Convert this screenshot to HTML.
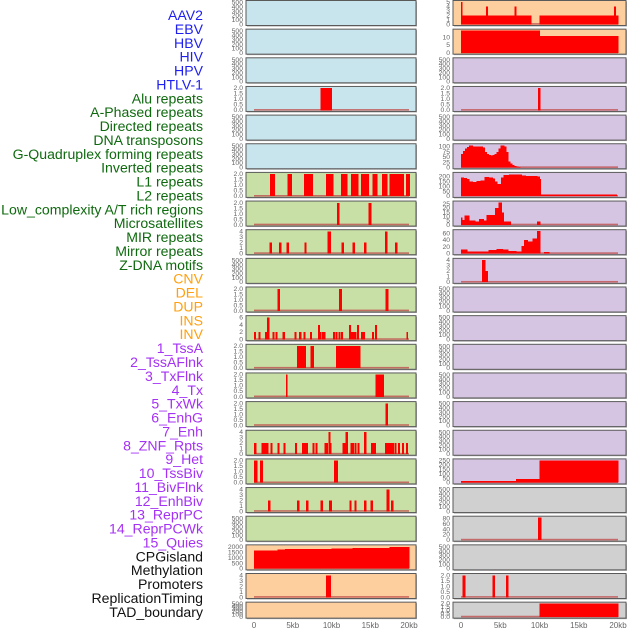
<!DOCTYPE html>
<html><head><meta charset="utf-8"><style>
html,body{margin:0;padding:0;background:#fff;}
svg{display:block;font-family:"Liberation Sans",sans-serif;}
</style></head><body>
<svg id="chart" width="630" height="630" viewBox="0 0 630 630"></svg>
<script>
const trackLabels=["AAV2","EBV","HBV","HIV","HPV","HTLV-1","Alu repeats","A-Phased repeats","Directed repeats","DNA transposons","G-Quadruplex forming repeats","Inverted repeats","L1 repeats","L2 repeats","Low_complexity A/T rich regions","Microsatellites","MIR repeats","Mirror repeats","Z-DNA motifs","CNV","DEL","DUP","INS","INV","1_TssA","2_TssAFlnk","3_TxFlnk","4_Tx","5_TxWk","6_EnhG","7_Enh","8_ZNF_Rpts","9_Het","10_TssBiv","11_BivFlnk","12_EnhBiv","13_ReprPC","14_ReprPCWk","15_Quies","CPGisland","Methylation","Promoters","ReplicationTiming","TAD_boundary"];
const labelGroups=[0,0,0,0,0,0,1,1,1,1,1,1,1,1,1,1,1,1,1,2,2,2,2,2,3,3,3,3,3,3,3,3,3,3,3,3,3,3,3,4,4,4,4,4];
const xTicksKb=[0,5,10,15,20];
const xTickLabels=["0","5kb","10kb","15kb","20kb"];
const T500=[0,100,200,300,400,500],T2=[0,0.5,1,1.5,2],T4=[0,1,2,3,4],T6=[0,2,4,6],T2000=[0,500,1000,1500,2000];
const T5=[0,1,2,3,4,5],T10=[0,5,10],T100=[0,25,50,75,100],T200=[0,50,100,150,200],T25=[0,5,10,15,20,25],T60=[0,20,40,60],T250=[0,50,100,150,200,250],T80=[0,20,40,60,80];
const leftTicks=[T500,T500,T500,T2,T500,T500,T2,T2,T4,T500,T2,T6,T2,T2,T2,T4,T2,T4,T500,T2000,T4,T500];
const leftMax=[520,520,520,2.05,520,520,2.05,2.05,4.1,520,2.05,6.2,2.05,2.05,2.05,4.1,2.05,4.1,520,2110,4.1,520];
const rightTicks=[T5,T10,T500,T2,T500,T100,T200,T25,T60,T4,T500,T500,T500,T500,T500,T500,T250,T500,T80,T500,T2,T2];
const rightMax=[5.1,14.4,520,2.05,520,108,232,27,68,4.1,520,520,520,520,520,520,255,520,85,520,2.05,2.05];
// segments [startKb,endKb,value]
const L3=[[8.6,10.0,2]];
const L6=[[2.06,2.67,2],[4.35,4.86,2],[6.45,7.57,2],[9.29,10.19,2],[11.2,12.0,2],[12.5,13.4,2],[13.8,14.8,2],[15.3,15.9,2],[16.5,17.2,2],[17.5,19.3,2],[19.6,20.1,2]];
const L7=[[10.7,11.0,2],[14.8,15.1,2]];
const L8=[[2.0,2.25,2],[3.25,3.5,2],[4.2,4.45,2],[6.5,6.75,2],[9.5,9.9,4],[11.3,11.55,2],[12.7,13.0,2],[14.2,14.45,2],[16.9,17.2,4],[18.2,18.45,2]];
const L10=[[3.0,3.3,2],[10.95,11.3,2],[16.95,17.3,2]];
const L11=[[0,0.2,2],[0.6,0.8,2],[1.45,1.65,2],[1.65,1.95,6],[2.4,2.6,2],[2.8,3.0,2],[3.7,3.95,2],[5.2,5.45,2],[5.8,6.05,2],[6.4,6.6,2],[7.25,7.45,2],[8.25,8.45,4],[8.45,8.65,2],[8.8,9.0,2],[9.0,9.2,2],[10.2,10.4,2],[10.5,10.7,2],[10.9,11.1,2],[11.25,11.45,2],[12.25,12.45,4],[12.5,12.7,2],[12.8,13.0,2],[13.0,13.2,2],[13.3,13.5,4],[13.8,14.0,2],[14.05,14.25,2],[15.2,15.4,2],[15.6,15.8,4],[19.65,19.85,2]];
const L12=[[5.55,6.67,2],[7.3,7.7,2],[10.6,11.6,2],[11.7,13.7,2]];
const L13=[[4.1,4.3,2],[15.7,16.7,2]];
const L14=[[16.95,17.25,2]];
const L15=[[0,0.25,2],[0.95,1.15,2],[1.1,1.3,2],[1.25,1.45,2],[1.45,1.65,2],[1.65,1.85,2],[2.15,2.35,2],[3.05,3.25,2],[3.8,4.0,2],[5.3,5.5,2],[6.2,6.4,2],[6.45,6.65,2],[6.7,6.9,2],[7.55,7.75,2],[7.95,8.15,2],[9.1,9.3,2],[9.3,9.5,2],[9.6,9.85,4],[9.75,9.95,2],[11.45,11.65,2],[11.65,11.85,2],[11.8,12.05,4],[12.45,12.65,2],[12.65,12.85,2],[12.95,13.15,2],[13.35,13.55,2],[14.2,14.45,4],[15.1,15.3,2],[15.35,15.55,2],[15.5,15.7,2],[16.9,17.1,2],[17.05,17.25,2],[17.3,17.5,2],[17.55,17.75,2],[17.8,18.0,2],[18.15,18.35,2],[18.6,18.8,2],[19.1,19.3,2],[19.6,19.8,2]];
const L16=[[0,0.4,2],[0.77,1.1,2],[10.3,10.8,2]];
const L17=[[1.8,2.05,2],[5.55,5.8,2],[6.7,6.95,2],[8.6,8.85,2],[9.7,10.0,2],[12.3,12.55,2],[12.95,13.2,2],[14.2,14.45,2],[15.05,15.3,2],[17.1,17.4,4],[17.7,17.95,2]];
const L19=[[0,3,1700],[3,4,1780],[4,10,1820],[10,12.7,1880],[12.7,17.5,1950],[17.5,20,2000]];
const L20=[[9.3,9.9,4]];
const R0=[[0,8.9,2],[10,20,2],[0,0.15,5],[3.2,3.4,4],[6.8,7.0,4],[19.5,19.7,4]];
const R1=[[0,10,14.4],[10,20,10.7]];
const R3=[[9.8,10.1,2]];
const R5_start=0,R5_binKb=0.25;
const R5_values=[65,78,90,98,105,105,100,100,100,100,100,95,75,65,60,58,60,65,75,90,105,105,100,75,30,20,12,8,4,2];
const R6=[[0,0.3,190],[0.3,0.7,185],[0.7,1,175],[1,1.5,150],[1.5,2,145],[2,2.5,155],[2.5,3,160],[3,3.5,195],[3.5,4,190],[4,4.3,180],[4.3,4.6,150],[4.6,5.1,125],[5.1,5.4,190],[5.4,6.1,220],[6.1,7.7,225],[7.7,8.2,210],[8.2,9.7,205],[9.7,10,200],[10,10.1,175],[10.1,19.8,20]];
const R7=[[0,0.1,9],[0.1,0.45,6],[0.45,1.06,11],[1.06,1.8,5],[1.8,2.3,4],[2.3,2.85,7],[2.85,3.27,5],[3.27,4.33,12],[4.33,4.76,20],[4.76,5.2,27],[5.2,5.4,15],[5.4,6.3,4],[9.7,10.1,4]];
const R8=[[0,0.8,12],[0.8,3.5,6],[3.5,4.5,10],[4.5,5.3,14],[5.3,6,12],[6,7,8],[7,7.7,6],[7.7,8.0,22],[8.0,8.5,40],[8.5,9.1,36],[9.1,9.7,45],[9.7,10.1,68],[10.6,11.2,5]];
const R9=[[2.67,3.1,4],[3.1,3.4,2]];
const R16=[[0,7,20],[7,10,40],[10,20,250]];
const R18=[[9.8,10.2,85]];
const R20=[[0.2,0.5,2],[4.0,4.3,2],[5.7,6.0,2]];
const R21=[[10,20,2]];

const R5=R5_values.map((v,i)=>[R5_start+i*R5_binKb,R5_start+(i+1)*R5_binKb,v]);
const leftData={3:L3,6:L6,7:L7,8:L8,10:L10,11:L11,12:L12,13:L13,14:L14,15:L15,16:L16,17:L17,19:L19,20:L20};
const rightData={0:R0,1:R1,3:R3,5:R5,6:R6,7:R7,8:R8,9:R9,16:R16,18:R18,20:R20,21:R21};

const NS="http://www.w3.org/2000/svg";
const svg=document.getElementById("chart");
function mk(tag,attrs,parent){const e=document.createElementNS(NS,tag);for(const k in attrs)e.setAttribute(k,attrs[k]);(parent||svg).appendChild(e);return e;}
const groupColors=["#1f1ff0","#0f6a0f","#ffa010","#a531f5","#111111"];
const leftBg=r=>r<6?"#c8e4ec":(r<19?"#c8e0a6":"#fecf9e");
const rightBg=r=>r<2?"#fecf9e":(r<17?"#d6c5e2":"#d0d0d0");
const L={x0:246,x1:416,k0:254,k20:409};
const Rr={x0:453,x1:626,k0:461,k20:618};
function rowTop(r){return 0.5+r*28.65;}
function rowH(r){return r===21?16:25;}
function xScale(P,kb){return P.k0+(P.k20-P.k0)*kb/20;}
function fmt(t,ticks){return ticks===T2?t.toFixed(1):String(t);}

trackLabels.forEach((s,i)=>{
  const t=mk("text",{x:203,y:(15+i*13.88+5).toFixed(1),"text-anchor":"end","font-size":"14.1",fill:groupColors[labelGroups[i]]});
  t.textContent=s;
  
  
});

function drawPanel(P,r,bg,ticks,ymax,segs,side){
  const top=rowTop(r),h=rowH(r);
  const g=mk("g",{});
  
  
  mk("rect",{x:P.x0+1,y:top+1,width:P.x1-P.x0,height:h,fill:"#aaa"},g);
  mk("rect",{x:P.x0,y:top,width:P.x1-P.x0,height:h,fill:bg,stroke:"#5a5a5a","stroke-width":1},g);
  const bot=top+h-1.2;
  const ys=v=>bot-(v/ymax)*(h-2.4);
  ticks.forEach(t=>{
    const tx=mk("text",{x:P.x0-3,y:(ys(t)+2).toFixed(1),"text-anchor":"end","font-size":"6.8",fill:"#666"},g);
    tx.textContent=fmt(t,ticks);
    
    
  });
  if(segs){
    const bl=mk("rect",{x:xScale(P,0),y:bot-1.2,width:xScale(P,20)-xScale(P,0),height:1.6,fill:"#c05050",opacity:0.8},g);
    
    
    segs.forEach(s=>{
      const x1=xScale(P,s[0]),x2=xScale(P,s[1]);
      const yv=ys(s[2]);
      const b=mk("rect",{x:x1.toFixed(2),y:yv.toFixed(2),width:Math.max(1.5,x2-x1+0.4).toFixed(2),height:(bot-yv).toFixed(2),fill:"#ff0000","shape-rendering":"crispEdges"},g);
      
      
    });
  }
}
for(let r=0;r<22;r++){
  drawPanel(L,r,leftBg(r),leftTicks[r],leftMax[r],leftData[r],'left');
  drawPanel(Rr,r,rightBg(r),rightTicks[r],rightMax[r],rightData[r],'right');
}
[L,Rr].forEach((P,pi)=>{
  xTicksKb.forEach((k,i)=>{
    const t=mk("text",{x:xScale(P,k).toFixed(1),y:628,"text-anchor":"middle","font-size":"8",fill:"#666"});
    t.textContent=xTickLabels[i];
    
    
  });
});
</script>
</body></html>
